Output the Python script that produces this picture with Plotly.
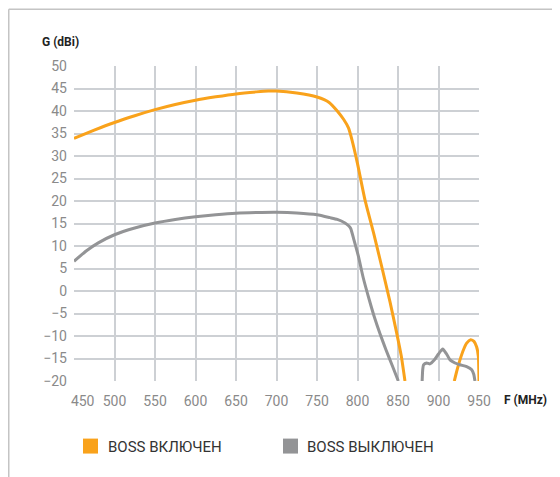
import plotly.graph_objects as go

# Frequency (MHz) and gain (dBi)
f_on = [450, 475, 500, 525, 550, 575, 600, 625, 650, 675, 690, 700, 725, 750, 765, 775, 783, 789, 793, 800, 809.3, 820, 829.8, 840, 848.4, 854, 858.6]
g_on = [33.9, 35.75, 37.45, 38.95, 40.3, 41.45, 42.4, 43.15, 43.8, 44.25, 44.45, 44.45, 44.0, 43.1, 41.9, 40.0, 38.1, 36.2, 33.7, 28.3, 20.2, 12.8, 5.5, -2.3, -9.35, -14.4, -20]
f_on2 = [919.5, 923, 926.5, 931, 934.8, 939.7, 943.8, 947, 949.2, 950]
g_on2 = [-20, -17.5, -15.3, -13.0, -11.6, -10.85, -11.2, -12.4, -14.5, -20]

f_off = [450, 465, 480, 500, 525, 550, 575, 600, 625, 650, 675, 700, 725, 750, 766, 775, 784.6, 789, 791.6, 795.7, 801, 807, 814.6, 821, 827.8, 835, 843, 850.4]
g_off = [6.6, 8.9, 10.7, 12.5, 14.0, 15.1, 15.9, 16.5, 16.95, 17.3, 17.45, 17.5, 17.35, 16.95, 16.3, 15.9, 15.1, 14.5, 13.9, 11.3, 7.8, 3.0, -2.0, -5.9, -9.5, -13.0, -16.6, -20]
f_off2 = [879.8, 880.5, 881.5, 885.4, 889.5, 895, 900, 905.2, 910, 914.2, 920.4, 926.5, 934.8, 941, 943.5, 945]
g_off2 = [-20, -17.5, -16.4, -16.0, -16.2, -15.3, -14.0, -12.9, -14.0, -15.3, -16.0, -16.4, -16.8, -17.5, -18.5, -20]

x_ticks = [450, 500, 550, 600, 650, 700, 750, 800, 850, 900, 950]
x_ticktext = ["\u00a0\u00a0\u00a0\u00a0\u00a0450", "500", "550", "600", "650", "700", "750", "800", "850", "900", "950"]
y_ticks = list(range(-20, 55, 5))

legend_labels = ["BOSS ВКЛЮЧЕН", "BOSS ВЫКЛЮЧЕН"]
ORANGE = "#f9a21b"
GRAY = "#939496"

fig = go.Figure()
for xs, ys in [(f_on, g_on), (f_on2, g_on2)]:
    fig.add_trace(go.Scatter(x=xs, y=ys, mode="lines", line=dict(color=ORANGE, width=3, shape="spline", smoothing=0.5),
                             showlegend=False, hoverinfo="skip"))
for xs, ys in [(f_off, g_off), (f_off2, g_off2)]:
    fig.add_trace(go.Scatter(x=xs, y=ys, mode="lines", line=dict(color=GRAY, width=3, shape="spline", smoothing=0.5),
                             showlegend=False, hoverinfo="skip"))

grid = "#cdd0d4"
tickfont = dict(family="Roboto, DejaVu Sans, sans-serif", size=14, color="#8a8a8a")
fig.update_xaxes(range=[450, 950], tickvals=x_ticks, ticktext=x_ticktext, showgrid=True, gridcolor=grid, gridwidth=1.5,
                 zeroline=False, showline=False, ticks="", ticklabelstandoff=10, tickfont=tickfont)
fig.update_yaxes(range=[-20, 50], tickvals=y_ticks, showgrid=True, gridcolor=grid, gridwidth=1.5,
                 zeroline=False, showline=False, ticks="", ticklabelstandoff=6, tickfont=tickfont)

# page body adds an 8px offset; the figure is sized so it fills the window
fig.update_layout(
    width=552, height=469,
    margin=dict(l=66, r=81, t=58, b=96),
    paper_bgcolor="white", plot_bgcolor="white",
    showlegend=False,
)

PW, PH = 405.0, 315.6
# frame
top_y = 1 + (57.7 - 0.75) / PH
left_x = (0.75 - 66) / PW
fig.add_shape(type="line", xref="paper", yref="paper", x0=left_x, x1=1 + 90 / PW, y0=top_y, y1=top_y,
              line=dict(color="#c4c4c4", width=1.5))
fig.add_shape(type="line", xref="paper", yref="paper", x0=left_x, x1=left_x, y0=top_y, y1=-100 / PH,
              line=dict(color="#c4c4c4", width=1.5))

# axis titles
title_font = dict(family="Roboto, DejaVu Sans, sans-serif", size=12, color="#222222")
fig.add_annotation(xref="paper", yref="paper", x=(40 - 74) / PW, y=1 + (65.7 - 42) / PH, text="<b>G (dBi)</b>",
                   showarrow=False, xanchor="left", yanchor="middle", font=title_font)
fig.add_annotation(xref="paper", yref="paper", x=(502 - 74) / PW, y=-(400 - 381.3) / PH, text="<b>F (MHz)</b>",
                   showarrow=False, xanchor="left", yanchor="middle", font=title_font)

# legend
leg_font = dict(family="Roboto, DejaVu Sans, sans-serif", size=15, color="#333333")
for sx, tx, col, lab in [(83, 106, ORANGE, legend_labels[0]), (283, 305, GRAY, legend_labels[1])]:
    fig.add_shape(type="rect", xref="paper", yref="paper",
                  x0=(sx - 74) / PW, x1=(sx + 15 - 74) / PW, y0=-(454 - 381.3) / PH, y1=-(439 - 381.3) / PH,
                  line=dict(width=0), fillcolor=col)
    fig.add_annotation(xref="paper", yref="paper", x=(tx - 74) / PW, y=-(447 - 381.3) / PH, text=lab,
                       showarrow=False, xanchor="left", yanchor="middle", font=leg_font)

fig.write_html("out.html")
